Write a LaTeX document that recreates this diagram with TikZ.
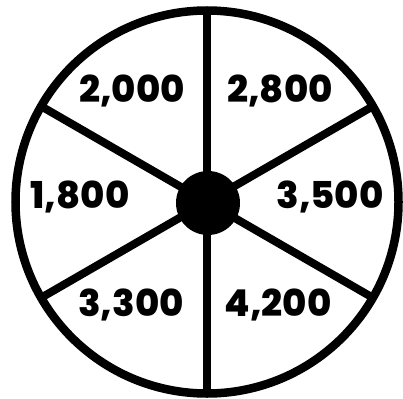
\documentclass[tikz,border=0pt]{standalone}
\usepackage{fontspec}
\setmainfont{Poppins}[BoldFont={* ExtraBold}]
\usetikzlibrary{calc}
\begin{document}
\begin{tikzpicture}[x=1pt,y=-1pt,
  rim/.style={line width=8.5pt},
  spoke/.style={line width=8pt},
  hub/.style={circle, fill=black, minimum size=64pt, inner sep=0pt},
  val/.style={font=\fontsize{37}{37}\selectfont\bfseries, inner sep=0pt}]
\useasboundingbox (0,0) rectangle (403,398);
\coordinate (c) at (207,202);
\draw[rim] (c) circle[radius=191.5];
\coordinate (p90) at ($(c)+(90:191.5)$);
\coordinate (p270) at ($(c)+(270:191.5)$);
\coordinate (p30) at ($(c)+(30:191.5)$);
\coordinate (p210) at ($(c)+(210:191.5)$);
\coordinate (p150) at ($(c)+(150:191.5)$);
\coordinate (p330) at ($(c)+(330:191.5)$);
\draw[spoke] (p90) -- (p270);
\draw[spoke] (p30) -- (p210);
\draw[spoke] (p150) -- (p330);
\node[hub] (h) at (208,203) {};
\node[val] (a) at (132,91) {2,000};
\node[val] (b) at (280,91) {2,800};
\node[val] (d) at (80,197) {1,800};
\node[val] (e) at (330,197) {3,500};
\node[val] (f) at (131,305) {3,300};
\node[val] (g) at (278,305) {4,200};
\end{tikzpicture}
\end{document}
